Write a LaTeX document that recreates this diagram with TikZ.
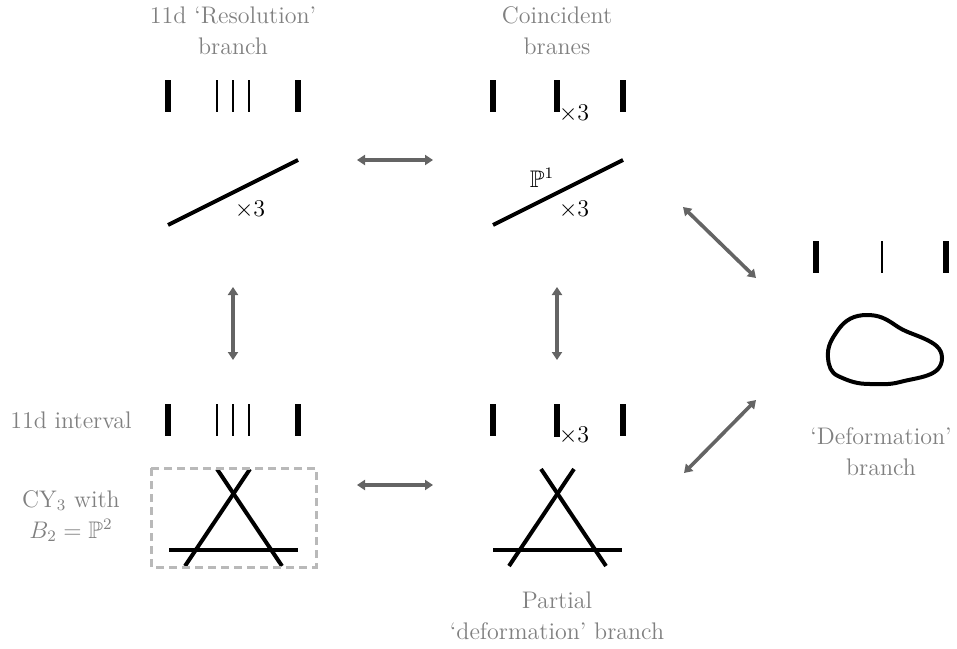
\documentclass[tikz,border=0pt]{standalone}
\usepackage{amssymb}
\usepackage{tikz}
\usetikzlibrary{positioning,arrows.meta}

\definecolor{labelgray}{RGB}{128,128,128}
\definecolor{arrowgray}{RGB}{100,100,100}
\definecolor{boxgray}{RGB}{185,185,185}

\begin{document}
\begin{tikzpicture}[x=0.5pt, y=-0.5pt, font=\large,
    caption/.style={text=labelgray, align=center, font=\fontsize{12}{15.5}\selectfont},
    endbrane/.style={line width=2.8pt},
    thinbrane/.style={line width=0.7pt},
    curve/.style={line width=2pt},
    move/.style={{Triangle[length=4pt,width=5pt]}-{Triangle[length=4pt,width=5pt]}, line width=1.8pt, arrowgray}]

  \useasboundingbox (0,0) rectangle (957,648);

  % Captions
  \node[caption] (restitle) at (233,31) {11d `Resolution'\\branch};
  \node[caption] (cointitle) at (557,31) {Coincident\\branes};
  \node[caption] (deftitle) at (881,452) {`Deformation'\\branch};
  \node[caption] (parttitle) at (557,616) {Partial\\`deformation' branch};
  \node[caption] (intervaltitle) at (71,420) {11d interval};
  \node[caption] (cytitle) at (71,516) {CY$_3$ with\\$B_2=\mathbb{P}^2$};

  % End-of-the-world branes
  \foreach \x/\y in {168/96, 298/96, 493/96, 623/96, 816/257, 946/257,
                     168/420, 298/420, 493/420, 623/420}
    \draw[endbrane] (\x,\y-16) -- (\x,\y+16);
  \draw[endbrane] (557,80) -- (557,112);
  \draw[endbrane] (557,404) -- (557,437);

  % M5 branes
  \foreach \x/\y in {217/96, 233/96, 249/96, 882/257, 217/420, 233/420, 249/420}
    \draw[thinbrane] (\x,\y-16) -- (\x,\y+16);

  \node (mult1) at (574,114) {$\times3$};
  \node (mult4) at (574,436) {$\times3$};

  % Curves in the base
  \draw[curve] (168,225) -- (298,160);
  \draw[curve] (493,225) -- (623,160);
  \node (mult2) at (250,210) {$\times3$};
  \node (mult3) at (574,210) {$\times3$};
  \node (pone) at (542,178) {$\mathbb{P}^1$};

  % Triangle of lines in P2
  \foreach \dx in {0,324} {
    \draw[curve] (169+\dx,550) -- (298+\dx,550);
    \draw[curve] (185+\dx,566) -- (250+\dx,469);
    \draw[curve] (217+\dx,469) -- (282+\dx,566);
  }
  \draw[boxgray, line width=1.5pt, dash pattern=on 4pt off 2.5pt] (151,468) rectangle (316,567);

  % Smooth curve
  \draw[curve] (828,358) to[out=95,in=-125] (838,330)
    to[out=55,in=180] (867,315) to[out=0,in=145] (895,325)
    to[out=-35,in=155] (925,339) to[out=-25,in=90] (942,358)
    to[out=-90,in=15] (900,382) to[out=195,in=0] (870,384)
    to[out=180,in=-25] (838,376) to[out=155,in=-85] cycle;

  % Transitions
  \coordinate (tl) at (357,160);  \coordinate (tr) at (433,160);
  \coordinate (bl) at (357,485);  \coordinate (br) at (433,485);
  \coordinate (lu) at (233,287);  \coordinate (ld) at (233,360);
  \coordinate (mu) at (557,287);  \coordinate (md) at (557,360);
  \coordinate (du) at (683,207);  \coordinate (dr) at (756,278);
  \coordinate (dd) at (684,473);  \coordinate (dq) at (756,400);
  \draw[move] (tl) -- (tr);
  \draw[move] (bl) -- (br);
  \draw[move] (lu) -- (ld);
  \draw[move] (mu) -- (md);
  \draw[move] (du) -- (dr);
  \draw[move] (dd) -- (dq);

\end{tikzpicture}
\end{document}
